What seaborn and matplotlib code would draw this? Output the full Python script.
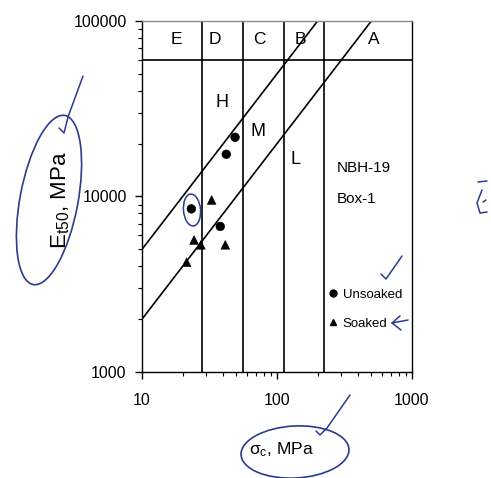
import pandas as pd
import matplotlib
matplotlib.use("Agg")
import matplotlib.pyplot as plt
from matplotlib.lines import Line2D
from matplotlib.patches import Ellipse
from matplotlib.ticker import NullFormatter
import seaborn as sns

# strength classes (boundaries in MPa) and modulus ratio classes
class_bounds = [28, 56, 112, 224]
class_labels = ["E", "D", "C", "B", "A"]
modulus_cap = 60000
ratio_values = [500, 200]
ratio_labels = ["H", "M", "L"]

# NBH-19 Box-1 test results
unsoaked_ucs = [48.9, 42.1, 23.2, 38.0]
unsoaked_e = [21750, 17400, 8500, 6750]
soaked_ucs = [32.8, 24.3, 27.3, 41.4, 21.4]
soaked_e = [9550, 5650, 5300, 5300, 4220]

x_ticks = [10, 100, 1000]
x_tick_labels = ["10", "100", "1000"]
y_ticks = [1000, 10000, 100000]
y_tick_labels = ["1000", "10000", "100000"]

df = pd.DataFrame({
    "ucs": unsoaked_ucs + soaked_ucs,
    "e": unsoaked_e + soaked_e,
    "state": ["Unsoaked"] * len(unsoaked_ucs) + ["Soaked"] * len(soaked_ucs),
})

sns.set_theme(style="ticks")
plt.rcParams["font.family"] = ["Liberation Sans", "DejaVu Sans"]
plt.rcParams["mathtext.default"] = "regular"
plt.rcParams["text.color"] = "black"
plt.rcParams["axes.labelcolor"] = "black"
plt.rcParams["xtick.color"] = "black"
plt.rcParams["ytick.color"] = "black"

fig = plt.figure(figsize=(4.91, 4.78), dpi=100)
ax = fig.add_axes([0.2892, 0.2218, 0.5499, 0.7343])
ax.set_xscale("log")
ax.set_yscale("log")

# class boundaries
for b in class_bounds:
    ax.axvline(b, color="black", lw=1.2, zorder=1)
ax.axhline(modulus_cap, color="black", lw=1.2, zorder=1)

# modulus ratio lines
line_x = [10, 1000]
for r in ratio_values:
    sns.lineplot(x=line_x, y=[r * v for v in line_x], color="black", lw=1.2, ax=ax, zorder=1)

sns.scatterplot(data=df, x="ucs", y="e", style="state",
                markers={"Unsoaked": "o", "Soaked": "^"},
                color="black", edgecolor="black", s=38, legend=False, ax=ax, zorder=3)

ax.set_xlim(10, 1000)
ax.set_ylim(1000, 100000)
ax.set_xticks(x_ticks)
ax.set_xticklabels(x_tick_labels)
ax.set_yticks(y_ticks)
ax.set_yticklabels(y_tick_labels)
ax.xaxis.set_minor_formatter(NullFormatter())
ax.yaxis.set_minor_formatter(NullFormatter())
ax.tick_params(which="major", direction="out", length=5, width=1, labelsize=11.5)
ax.tick_params(axis="x", which="major", pad=10)
ax.tick_params(axis="y", which="major", pad=6)
ax.tick_params(which="minor", direction="out", length=3, width=0.8)

for s in ax.spines.values():
    s.set_color("black")
    s.set_linewidth(1.0)
ax.spines["top"].set_color("#888888")

ax.set_xlabel("σ$_c$, MPa", fontsize=12.5)
ax.set_ylabel("E$_{t50}$, MPa", fontsize=16)
ax.xaxis.set_label_coords(0.515, -0.194)
ax.yaxis.set_label_coords(-0.259, 0.49)

# class letters
for lab, fx in zip(class_labels, [0.128, 0.270, 0.434, 0.588, 0.857]):
    ax.text(fx, 0.946, lab, transform=ax.transAxes, ha="center", va="center", fontsize=12.5)
for lab, (fx, fy) in zip(ratio_labels, [(0.296, 0.769), (0.430, 0.684), (0.567, 0.604)]):
    ax.text(fx, fy, lab, transform=ax.transAxes, ha="center", va="center", fontsize=13)
ax.text(0.722, 0.581, "NBH-19", transform=ax.transAxes, ha="left", va="center", fontsize=11)
ax.text(0.722, 0.493, "Box-1", transform=ax.transAxes, ha="left", va="center", fontsize=11)

handles = [
    Line2D([], [], ls="none", marker="o", color="black", markersize=5),
    Line2D([], [], ls="none", marker="^", color="black", markersize=4.5),
]
ax.legend(handles, ["Unsoaked", "Soaked"], loc="upper left", bbox_to_anchor=(0.665, 0.257),
          frameon=False, handlelength=0.8, handletextpad=0.3, borderpad=0,
          labelspacing=1.3, fontsize=9.5)

# handwritten marks (pen overlay in pixel space)
pen = "#2b3b8f"
ov = fig.add_axes([0, 0, 1, 1], zorder=10)
ov.set_xlim(0, 491)
ov.set_ylim(478, 0)
ov.axis("off")
ov.patch.set_alpha(0)
ov.add_patch(Ellipse((49, 200), 172, 58, angle=-79.4, fill=False, ec=pen, lw=1.2))
ov.add_patch(Ellipse((295, 452), 108, 52, angle=-3, fill=False, ec=pen, lw=1.2))
ov.add_patch(Ellipse((192, 210), 17, 32, angle=-5, fill=False, ec=pen, lw=1.1))
ov.plot([59, 64, 68, 83], [128, 133, 117, 76], color=pen, lw=1.1)
ov.plot([316, 320, 327, 350], [431, 435, 428, 395], color=pen, lw=1.1)
ov.plot([381, 386, 402], [274, 279, 256], color=pen, lw=1.1)
ov.plot([400, 392, 401], [316, 323, 330], color=pen, lw=1.1)
ov.plot([392, 408], [323, 320], color=pen, lw=1.1)
ov.plot([478, 487], [182, 181], color=pen, lw=1.1)
ov.plot([482, 477, 480, 487], [190, 203, 213, 212], color=pen, lw=1.1)
ov.plot([483, 486], [202, 200], color=pen, lw=1.1)

fig.savefig("out.png", dpi=100)
